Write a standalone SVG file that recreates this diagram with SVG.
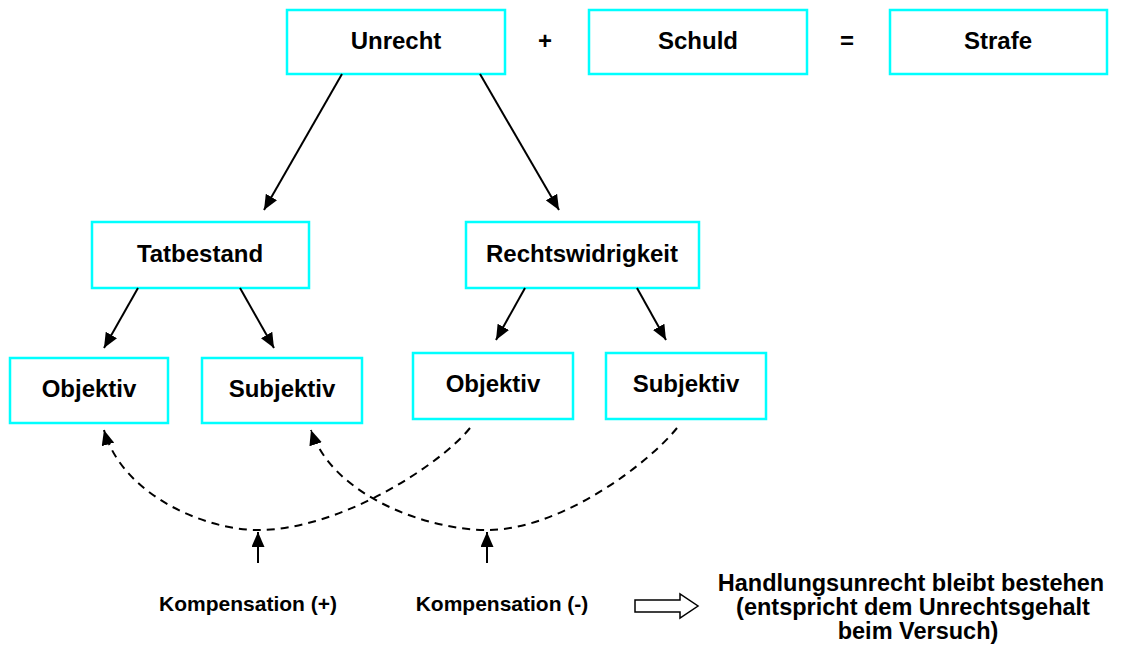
<svg xmlns="http://www.w3.org/2000/svg" width="1122" height="652" viewBox="0 0 1122 652">
<style>
.box{fill:#fff;stroke:#00FFFF;stroke-width:2.5}
.t{font-family:"Liberation Sans",Arial,sans-serif;font-weight:bold;font-size:24px;fill:#000;text-anchor:middle}
.s{font-size:21px}
.r{font-size:23.5px}
.ln{stroke:#000;stroke-width:2;fill:none}
.dash{stroke:#000;stroke-width:2;fill:none;stroke-dasharray:8 6}
</style>
<defs>
<marker id="ah" viewBox="0 0 15 13" refX="15" refY="6.5" markerWidth="15" markerHeight="13" markerUnits="userSpaceOnUse" orient="auto">
<path d="M0,0 L15,6.5 L0,13 Z" fill="#000"/>
</marker>
</defs>
<rect width="1122" height="652" fill="#fff"/>
<g id="unrecht"><rect class="box" x="287" y="10" width="218" height="64"/><text class="t" x="396" y="49">Unrecht</text></g>
<g id="plus"><text class="t" x="545" y="49">+</text></g>
<g id="schuld"><rect class="box" x="589" y="10" width="218" height="64"/><text class="t" x="698" y="49">Schuld</text></g>
<g id="equals"><text class="t" x="847" y="49">=</text></g>
<g id="strafe"><rect class="box" x="890" y="10" width="217" height="64"/><text class="t" x="998" y="49">Strafe</text></g>
<g id="tatbestand"><rect class="box" x="92" y="222" width="217" height="66"/><text class="t" x="200" y="262">Tatbestand</text></g>
<g id="rechtswidrigkeit"><rect class="box" x="466" y="222" width="233" height="66"/><text class="t" x="582" y="262">Rechtswidrigkeit</text></g>
<g id="objektiv1"><rect class="box" x="10" y="358" width="158" height="65"/><text class="t" x="89" y="397">Objektiv</text></g>
<g id="subjektiv1"><rect class="box" x="202" y="358" width="160" height="65"/><text class="t" x="282" y="397">Subjektiv</text></g>
<g id="objektiv2"><rect class="box" x="413" y="353" width="160" height="66"/><text class="t" x="493" y="392">Objektiv</text></g>
<g id="subjektiv2"><rect class="box" x="606" y="353" width="160" height="66"/><text class="t" x="686" y="392">Subjektiv</text></g>
<g id="kompensation-plus"><text class="t s" x="248" y="611">Kompensation (+)</text></g>
<g id="kompensation-minus"><text class="t s" x="502" y="611">Kompensation (-)</text></g>
<g id="result">
<path d="M635,600 H680 V594 L698,606 L680,618 V612 H635 Z" fill="#fff" stroke="#000" stroke-width="1.5"/>
<text class="t r" x="911" y="591">Handlungsunrecht bleibt bestehen</text>
<text class="t r" x="913" y="615">(entspricht dem Unrechtsgehalt</text>
<text class="t r" x="918" y="639">beim Versuch)</text>
</g>
<g id="connectors">
<line class="ln" x1="342" y1="74" x2="264" y2="210" marker-end="url(#ah)"/>
<line class="ln" x1="480" y1="74" x2="559" y2="210" marker-end="url(#ah)"/>
<line class="ln" x1="138" y1="288" x2="104" y2="348" marker-end="url(#ah)"/>
<line class="ln" x1="240" y1="288" x2="274" y2="348" marker-end="url(#ah)"/>
<line class="ln" x1="525" y1="288" x2="496" y2="340" marker-end="url(#ah)"/>
<line class="ln" x1="637" y1="288" x2="666" y2="340" marker-end="url(#ah)"/>
<path class="dash" d="M470,428 C440,465 340,530 258,530 C205,530 122,495 104,430" marker-end="url(#ah)"/>
<path class="dash" d="M677,428 C647,465 560,530 487,530 C426,530 332,495 311,430" marker-end="url(#ah)"/>
<line class="ln" x1="258" y1="563" x2="258" y2="532" marker-end="url(#ah)"/>
<line class="ln" x1="487" y1="563" x2="487" y2="532" marker-end="url(#ah)"/>
</g>
</svg>
